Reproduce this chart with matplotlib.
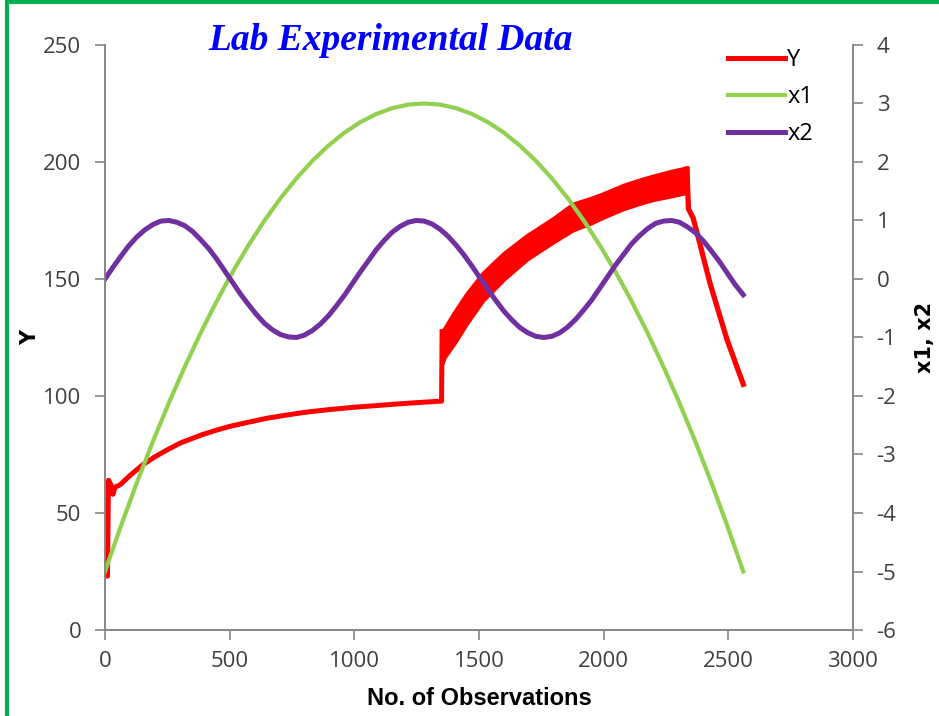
import matplotlib.pyplot as plt
from matplotlib.patches import Rectangle

plt.rcParams['axes.unicode_minus'] = False

# Y response, first stage (single trace up to the step change)
obs_low = [0, 10, 14, 24, 32, 40, 60, 100, 150, 200, 250, 300, 385, 450, 500, 575,
           650, 725, 800, 900, 1000, 1100, 1200, 1345, 1350]
y_low = [24, 23, 64, 62, 58, 61, 62, 66, 70.5, 74, 77, 79.8, 83.3, 85.5, 87, 88.8,
         90.5, 91.8, 93, 94.2, 95.2, 96, 96.8, 97.8, 97.8]

# Y response, second stage: fast oscillation, kept as upper / lower envelope
obs_band = [1352, 1360, 1400, 1450, 1516, 1600, 1692, 1800, 1877, 1950, 2000, 2078,
            2150, 2200, 2270, 2334]
y_band_hi = [127.5, 128.5, 135.5, 143.5, 152.5, 161, 168.5, 176, 182, 184.5, 186.5, 190,
             192.5, 194, 196, 197.5]
y_band_lo = [114, 116.5, 122.5, 131, 141, 150, 158.5, 166, 171, 174, 176.5, 180,
             182.5, 184, 185.5, 187]

# Y response, final decay
obs_tail = [2334, 2340, 2359, 2374, 2427, 2495, 2560]
y_tail = [197, 180, 176, 170, 148, 124, 105]

# x1 input
obs_x1 = [0, 64, 128, 192, 256, 320, 384, 448, 512, 576, 640, 704, 768, 832, 896,
          960, 1024, 1088, 1152, 1216, 1280, 1344, 1408, 1472, 1536, 1600, 1664,
          1728, 1792, 1856, 1920, 1984, 2048, 2112, 2176, 2240, 2304, 2368, 2432,
          2496, 2560]
x1 = [-5, -4.22, -3.48, -2.78, -2.12, -1.5, -0.92, -0.38, 0.12, 0.58, 1.0, 1.38, 1.72,
      2.02, 2.28, 2.5, 2.68, 2.82, 2.92, 2.98, 3.0, 2.98, 2.92, 2.82, 2.68, 2.5, 2.28,
      2.02, 1.72, 1.38, 1.0, 0.58, 0.12, -0.38, -0.92, -1.5, -2.12, -2.78, -3.48,
      -4.22, -5]

# x2 input
obs_x2 = list(range(0, 2561, 32))
x2 = [0, 0.2, 0.39, 0.57, 0.72, 0.84, 0.93, 0.99, 1.0, 0.97, 0.91, 0.81, 0.67, 0.52,
      0.34, 0.14, -0.06, -0.26, -0.44, -0.61, -0.76, -0.87, -0.95, -0.99, -1.0, -0.96,
      -0.88, -0.77, -0.63, -0.46, -0.28, -0.08, 0.12, 0.31, 0.5, 0.66, 0.8, 0.9, 0.97,
      1.0, 0.99, 0.94, 0.85, 0.73, 0.58, 0.41, 0.22, 0.02, -0.18, -0.37, -0.55, -0.7,
      -0.83, -0.92, -0.98, -1.0, -0.98, -0.92, -0.82, -0.69, -0.53, -0.36, -0.16, 0.04,
      0.24, 0.42, 0.6, 0.74, 0.86, 0.95, 0.99, 1.0, 0.97, 0.89, 0.79, 0.65, 0.48, 0.3,
      0.1, -0.1, -0.27]

RED = '#FF0000'
GREEN = '#92D050'
PURPLE = '#7030A0'
AXC = '#868686'
TXT = '#404040'

fig = plt.figure(figsize=(9.39, 7.16), dpi=100)
ax = fig.add_axes([0.1118, 0.1201, 0.7966, 0.8171])
ax2 = ax.twinx()

# Y on the left axis
y_line, = ax.plot(obs_low + obs_band[:1], y_low + y_band_hi[:1], color=RED, lw=3.6,
                  solid_joinstyle='round', label='Y', zorder=3)
ax.fill_between(obs_band, y_band_lo, y_band_hi, color=RED, lw=3, edgecolor=RED, zorder=3)
ax.plot(obs_tail, y_tail, color=RED, lw=3.8, solid_joinstyle='round', zorder=3)

# x1, x2 on the right axis
l1, = ax2.plot(obs_x1, x1, color=GREEN, lw=3, label='x1')
l2, = ax2.plot(obs_x2, x2, color=PURPLE, lw=3.6, label='x2')

ax.set_xlim(0, 3000)
ax.set_ylim(0, 250)
ax2.set_ylim(-6, 4)
ax.set_xticks(range(0, 3001, 500))
ax.set_yticks(range(0, 251, 50))
ax2.set_yticks(range(-6, 5))

for a in (ax, ax2):
    a.spines['top'].set_visible(False)
    for s in ('left', 'right', 'bottom'):
        a.spines[s].set_color(AXC)
        a.spines[s].set_linewidth(1.2)
    a.tick_params(colors=AXC, labelcolor=TXT, length=7, width=1.2, labelsize=16)
ax.tick_params(axis='x', pad=8)
ax.tick_params(axis='y', pad=10)
ax2.tick_params(axis='y', pad=10)
for lab in ax.get_xticklabels() + ax.get_yticklabels() + ax2.get_yticklabels():
    lab.set_family(['Open Sans', 'DejaVu Sans'])

ax.set_xlabel('No. of Observations', fontsize=17, fontweight='bold', color='black',
              family=['Liberation Sans', 'DejaVu Sans'], labelpad=11)
ax.set_ylabel('Y', fontsize=15, fontweight='bold', color='black', labelpad=2)
ax2.set_ylabel('x1, x2', fontsize=15, fontweight='bold', color='black', labelpad=13)

fig.text(0.416, 0.944, 'Lab Experimental Data', ha='center', va='center',
         fontsize=27, fontweight='bold', fontstyle='italic', color='#0000FF',
         family=['Liberation Serif', 'DejaVu Serif'])

leg = fig.legend([y_line, l1, l2], ['Y', 'x1', 'x2'], loc='upper left',
                 bbox_to_anchor=(0.753, 0.962), frameon=False, fontsize=17,
                 handlelength=2.4, handletextpad=0.1, labelspacing=0.55)
for t in leg.get_texts():
    t.set_family(['Open Sans', 'DejaVu Sans'])

# green frame around the figure
fig.patches.append(Rectangle((0.007, -0.01), 0.995, 1.007, transform=fig.transFigure,
                             fill=False, edgecolor='#00B050', lw=3))

fig.savefig('out.png', dpi=100)
